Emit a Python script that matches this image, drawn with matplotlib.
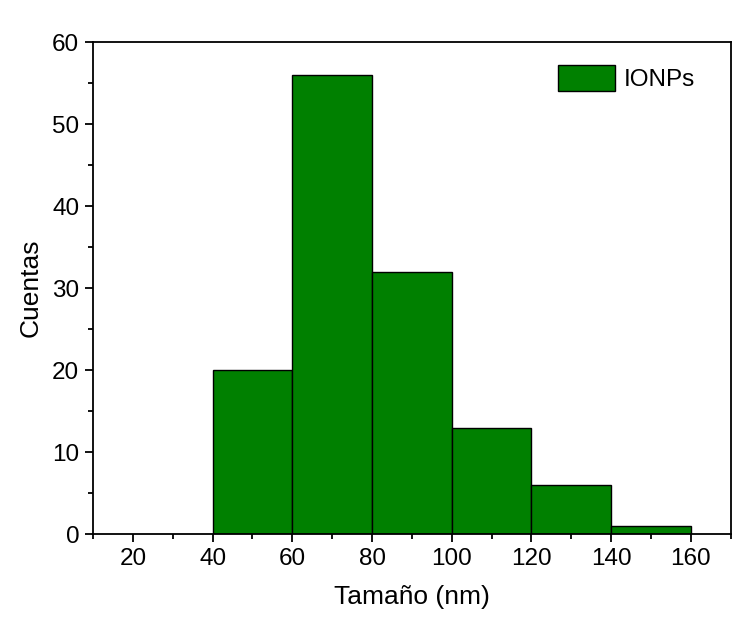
import matplotlib
matplotlib.use('Agg')
import matplotlib.pyplot as plt
from matplotlib.ticker import MultipleLocator

plt.rcParams['font.family'] = ['Liberation Sans', 'DejaVu Sans']

bin_edges = [40, 60, 80, 100, 120, 140]
counts = [20, 56, 32, 13, 6, 1]
bin_width = 20

fig = plt.figure(figsize=(7.52, 6.19), dpi=100)
ax = fig.add_axes([0.1237, 0.137, 0.848, 0.795])

ax.bar(bin_edges, counts, width=bin_width, align='edge', color='#008000',
       edgecolor='black', linewidth=1.0, label='IONPs')

ax.set_xlim(10, 170)
ax.set_ylim(0, 60)
ax.xaxis.set_major_locator(MultipleLocator(20))
ax.xaxis.set_minor_locator(MultipleLocator(10))
ax.yaxis.set_major_locator(MultipleLocator(10))
ax.yaxis.set_minor_locator(MultipleLocator(5))
ax.set_xticks(range(20, 161, 20))

ax.tick_params(which='major', direction='out', length=6, width=1.3,
               labelsize=17.5, pad=4)
ax.tick_params(which='minor', direction='out', length=3.5, width=1.3)
for s in ax.spines.values():
    s.set_linewidth(1.3)

ax.set_xlabel('Tamaño (nm)', fontsize=19, labelpad=11)
ax.set_ylabel('Cuentas', fontsize=19, labelpad=7)

ax.legend(loc='upper left', frameon=False, fontsize=17.5, handlelength=2.35,
          handleheight=1.3, handletextpad=0.35, borderpad=0, borderaxespad=0,
          bbox_to_anchor=(558 / 752, 1 - 65 / 619),
          bbox_transform=fig.transFigure)

fig.savefig('out.png', dpi=100)
